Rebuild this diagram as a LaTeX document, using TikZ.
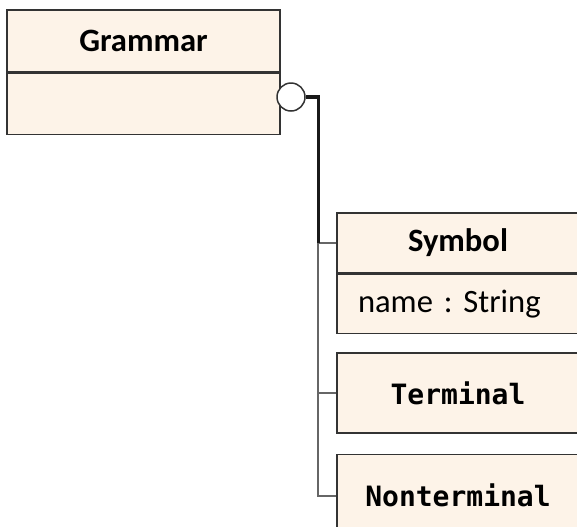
\documentclass[tikz,border=0pt]{standalone}
\usepackage{fontspec}
\setmainfont{Carlito}
\setmonofont{DejaVu Sans Mono}
\usetikzlibrary{positioning}
\definecolor{classfill}{RGB}{253,243,232}

\begin{document}
\begin{tikzpicture}[
	x=1pt, y=1pt,
	classhead/.style={rectangle, draw=black!80, line width=.75pt, fill=classfill, inner sep=0pt, minimum width=136.5pt, minimum height=31pt, font=\fontsize{16.3}{19}\selectfont\bfseries},
	classbody/.style={rectangle, draw=black!80, line width=.75pt, fill=classfill, inner sep=0pt, minimum width=136.5pt, minimum height=30.5pt},
	symbox/.style={rectangle, draw=black!80, line width=.75pt, fill=classfill, inner sep=0pt, minimum width=121pt, minimum height=30pt, font=\fontsize{16.3}{19}\selectfont\bfseries},
	attrbox/.style={rectangle, draw=black!80, line width=.75pt, fill=classfill, inner ysep=0pt, inner xsep=10.5pt, text width=100pt, align=left, minimum height=29.5pt, font=\fontsize{16.3}{19}\selectfont\frenchspacing},
	monobox/.style={rectangle, draw=black!80, line width=.75pt, fill=classfill, inner sep=0pt, minimum width=121pt, minimum height=40pt, font=\fontsize{14}{17}\selectfont\ttfamily\bfseries},
	compcircle/.style={circle, draw=black!80, line width=.75pt, fill=white, inner sep=0pt, minimum size=14pt},
	thickline/.style={line width=1.6pt, black!90},
	thinline/.style={line width=1pt, black!60}
	]
	\useasboundingbox (0,0) rectangle (288.5,-263);
	\clip (0,0) rectangle (288.5,-263);

	% aggregate
	\node[classhead] (gramhead) at (71.75,-20.5) {Grammar};
	\node[classbody, below=0pt of gramhead] (grambody) {};
	\node[compcircle] (comp) at (145.5,-48.5) {};

	% parts
	\node[symbox] (symhead) at (229,-121.5) {Symbol};
	\node[attrbox, below=0pt of symhead] (symattr) {name : String};
	\node[monobox, below=9pt of symattr] (term) {Terminal};
	\node[monobox, below=10pt of term, minimum height=41pt] (nonterm) {Nonterminal};

	\coordinate[left=9pt of symhead.west] (bus);
	\draw[thinline] (bus) -- (symhead.west);
	\draw[thinline] (bus) |- (term.west);
	\draw[thinline] (bus) |- (nonterm.west);
	\draw[thickline] (comp.east) -| (bus);
\end{tikzpicture}
\end{document}
